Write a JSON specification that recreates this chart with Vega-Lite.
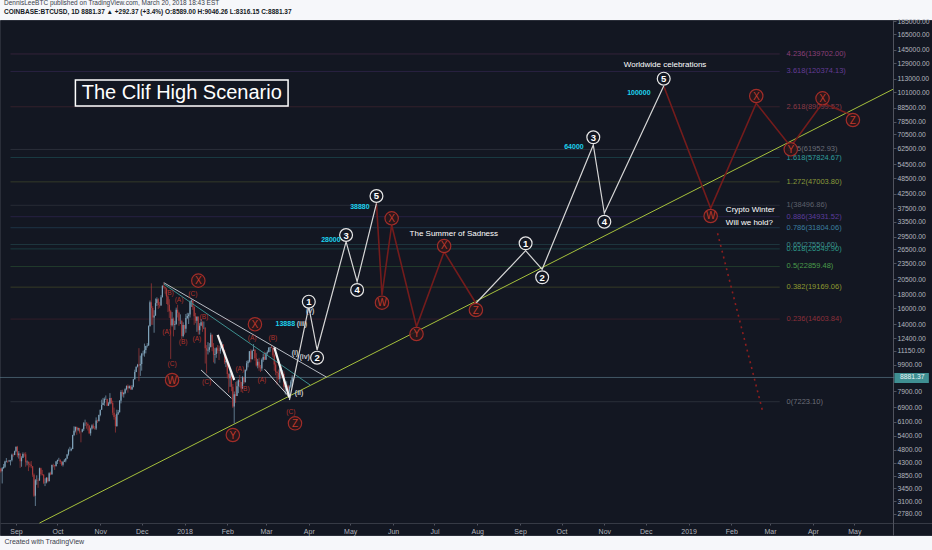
{
"$schema":"https://vega.github.io/schema/vega-lite/v6.json",
"width":932,"height":515,
"autosize":{"type":"none"},
"padding":{"left":0,"top":20,"right":0,"bottom":15},
"background":"#f6f7fa",
"title":{"text":"DennisLeeBTC published on TradingView.com, March 20, 2018 18:43 EST","subtitle":"COINBASE:BTCUSD, 1D  8881.37 ▲ +292.37 (+3.4%)  O:8589.00  H:9046.26  L:8316.15  C:8881.37","anchor":"start","frame":"group","offset":3,"dx":4,"fontSize":6.5,"font":"Liberation Sans","fontWeight":"normal","color":"#3a3e4a","subtitleFontSize":6.5,"subtitleFont":"Liberation Sans","subtitleFontWeight":"bold","subtitleColor":"#131722","subtitlePadding":2.5},
"config":{"view":{"fill":"#131722","stroke":"#2a2e39"},"text":{"font":"Liberation Sans"},
 "axis":{"grid":false,"labelFontSize":7,"labelFont":"Liberation Sans","labelColor":"#b2b5be","labelOverlap":false,"labelFlush":false,"tickColor":"#50535e","domainColor":"#50535e","titleFont":"Liberation Sans"}},
"datasets":{
"candles":[
{"d":"2017-08-21","o":4088,"h":4100,"l":3950,"c":3999},
{"d":"2017-08-22","o":3999,"h":4140,"l":3600,"c":4100},
{"d":"2017-08-23","o":4100,"h":4250,"l":4080,"c":4150},
{"d":"2017-08-24","o":4150,"h":4370,"l":4110,"c":4340},
{"d":"2017-08-25","o":4340,"h":4470,"l":4310,"c":4360},
{"d":"2017-08-26","o":4360,"h":4380,"l":4290,"c":4350},
{"d":"2017-08-27","o":4350,"h":4400,"l":4320,"c":4380},
{"d":"2017-08-28","o":4380,"h":4400,"l":4200,"c":4390},
{"d":"2017-08-29","o":4390,"h":4640,"l":4340,"c":4600},
{"d":"2017-08-30","o":4600,"h":4650,"l":4520,"c":4590},
{"d":"2017-08-31","o":4590,"h":4760,"l":4580,"c":4740},
{"d":"2017-09-01","o":4740,"h":4930,"l":4700,"c":4920},
{"d":"2017-09-02","o":4920,"h":4960,"l":4500,"c":4580},
{"d":"2017-09-03","o":4580,"h":4740,"l":4450,"c":4650},
{"d":"2017-09-04","o":4650,"h":4650,"l":4110,"c":4350},
{"d":"2017-09-05","o":4350,"h":4540,"l":4150,"c":4480},
{"d":"2017-09-06","o":4480,"h":4690,"l":4470,"c":4630},
{"d":"2017-09-07","o":4630,"h":4680,"l":4520,"c":4620},
{"d":"2017-09-08","o":4620,"h":4700,"l":4150,"c":4310},
{"d":"2017-09-09","o":4310,"h":4380,"l":4200,"c":4330},
{"d":"2017-09-10","o":4330,"h":4340,"l":4000,"c":4260},
{"d":"2017-09-11","o":4260,"h":4330,"l":4130,"c":4220},
{"d":"2017-09-12","o":4220,"h":4360,"l":4100,"c":4170},
{"d":"2017-09-13","o":4170,"h":4170,"l":3810,"c":3880},
{"d":"2017-09-14","o":3880,"h":3920,"l":3210,"c":3240},
{"d":"2017-09-15","o":3240,"h":3740,"l":2972,"c":3700},
{"d":"2017-09-16","o":3700,"h":3860,"l":3560,"c":3710},
{"d":"2017-09-17","o":3710,"h":3760,"l":3470,"c":3690},
{"d":"2017-09-18","o":3690,"h":4120,"l":3690,"c":4100},
{"d":"2017-09-19","o":4100,"h":4120,"l":3850,"c":3900},
{"d":"2017-09-20","o":3900,"h":4040,"l":3850,"c":3880},
{"d":"2017-09-21","o":3880,"h":3900,"l":3580,"c":3620},
{"d":"2017-09-22","o":3620,"h":3760,"l":3520,"c":3630},
{"d":"2017-09-23","o":3630,"h":3800,"l":3600,"c":3780},
{"d":"2017-09-24","o":3780,"h":3790,"l":3630,"c":3670},
{"d":"2017-09-25","o":3670,"h":3960,"l":3670,"c":3930},
{"d":"2017-09-26","o":3930,"h":3980,"l":3860,"c":3890},
{"d":"2017-09-27","o":3890,"h":4230,"l":3890,"c":4210},
{"d":"2017-09-28","o":4210,"h":4260,"l":4130,"c":4200},
{"d":"2017-09-29","o":4200,"h":4220,"l":4040,"c":4170},
{"d":"2017-09-30","o":4170,"h":4360,"l":4170,"c":4340},
{"d":"2017-10-01","o":4340,"h":4410,"l":4250,"c":4400},
{"d":"2017-10-02","o":4400,"h":4480,"l":4360,"c":4400},
{"d":"2017-10-03","o":4400,"h":4430,"l":4250,"c":4320},
{"d":"2017-10-04","o":4320,"h":4360,"l":4180,"c":4220},
{"d":"2017-10-05","o":4220,"h":4350,"l":4160,"c":4330},
{"d":"2017-10-06","o":4330,"h":4430,"l":4330,"c":4380},
{"d":"2017-10-07","o":4380,"h":4470,"l":4310,"c":4450},
{"d":"2017-10-08","o":4450,"h":4630,"l":4430,"c":4610},
{"d":"2017-10-09","o":4610,"h":4840,"l":4560,"c":4780},
{"d":"2017-10-10","o":4780,"h":4920,"l":4730,"c":4780},
{"d":"2017-10-11","o":4780,"h":4880,"l":4740,"c":4830},
{"d":"2017-10-12","o":4830,"h":5450,"l":4820,"c":5440},
{"d":"2017-10-13","o":5440,"h":5860,"l":5390,"c":5640},
{"d":"2017-10-14","o":5640,"h":5840,"l":5560,"c":5830},
{"d":"2017-10-15","o":5830,"h":5850,"l":5450,"c":5700},
{"d":"2017-10-16","o":5700,"h":5790,"l":5620,"c":5760},
{"d":"2017-10-17","o":5760,"h":5780,"l":5510,"c":5600},
{"d":"2017-10-18","o":5600,"h":5600,"l":5110,"c":5590},
{"d":"2017-10-19","o":5590,"h":5740,"l":5560,"c":5710},
{"d":"2017-10-20","o":5710,"h":6070,"l":5630,"c":6010},
{"d":"2017-10-21","o":6010,"h":6200,"l":5880,"c":6010},
{"d":"2017-10-22","o":6010,"h":6080,"l":5740,"c":5980},
{"d":"2017-10-23","o":5980,"h":6050,"l":5650,"c":5900},
{"d":"2017-10-24","o":5900,"h":5910,"l":5480,"c":5520},
{"d":"2017-10-25","o":5520,"h":5790,"l":5410,"c":5750},
{"d":"2017-10-26","o":5750,"h":5960,"l":5700,"c":5900},
{"d":"2017-10-27","o":5900,"h":6000,"l":5730,"c":5780},
{"d":"2017-10-28","o":5780,"h":5870,"l":5690,"c":5750},
{"d":"2017-10-29","o":5750,"h":6320,"l":5680,"c":6150},
{"d":"2017-10-30","o":6150,"h":6200,"l":6030,"c":6130},
{"d":"2017-10-31","o":6130,"h":6470,"l":6100,"c":6450},
{"d":"2017-11-01","o":6450,"h":6750,"l":6380,"c":6740},
{"d":"2017-11-02","o":6740,"h":7350,"l":6740,"c":7030},
{"d":"2017-11-03","o":7030,"h":7460,"l":7020,"c":7160},
{"d":"2017-11-04","o":7160,"h":7490,"l":6980,"c":7390},
{"d":"2017-11-05","o":7390,"h":7620,"l":7330,"c":7400},
{"d":"2017-11-06","o":7400,"h":7410,"l":6960,"c":6980},
{"d":"2017-11-07","o":6980,"h":7200,"l":6970,"c":7120},
{"d":"2017-11-08","o":7120,"h":7770,"l":7060,"c":7460},
{"d":"2017-11-09","o":7460,"h":7470,"l":7070,"c":7150},
{"d":"2017-11-10","o":7150,"h":7290,"l":6440,"c":6570},
{"d":"2017-11-11","o":6570,"h":6870,"l":6200,"c":6340},
{"d":"2017-11-12","o":6340,"h":6470,"l":5555,"c":5870},
{"d":"2017-11-13","o":5870,"h":6750,"l":5830,"c":6520},
{"d":"2017-11-14","o":6520,"h":6730,"l":6450,"c":6600},
{"d":"2017-11-15","o":6600,"h":7330,"l":6600,"c":7280},
{"d":"2017-11-16","o":7280,"h":7970,"l":7120,"c":7850},
{"d":"2017-11-17","o":7850,"h":8000,"l":7550,"c":7700},
{"d":"2017-11-18","o":7700,"h":7860,"l":7480,"c":7780},
{"d":"2017-11-19","o":7780,"h":8100,"l":7700,"c":8040},
{"d":"2017-11-20","o":8040,"h":8300,"l":7960,"c":8250},
{"d":"2017-11-21","o":8250,"h":8370,"l":7800,"c":8100},
{"d":"2017-11-22","o":8100,"h":8300,"l":8090,"c":8240},
{"d":"2017-11-23","o":8240,"h":8300,"l":8000,"c":8020},
{"d":"2017-11-24","o":8020,"h":8330,"l":8000,"c":8200},
{"d":"2017-11-25","o":8200,"h":8780,"l":8160,"c":8750},
{"d":"2017-11-26","o":8750,"h":9490,"l":8720,"c":9300},
{"d":"2017-11-27","o":9300,"h":9750,"l":9290,"c":9740},
{"d":"2017-11-28","o":9740,"h":9970,"l":9670,"c":9900},
{"d":"2017-11-29","o":9900,"h":11400,"l":8600,"c":9840},
{"d":"2017-11-30","o":9840,"h":10700,"l":9000,"c":9950},
{"d":"2017-12-01","o":9950,"h":10950,"l":9410,"c":10860},
{"d":"2017-12-02","o":10860,"h":11150,"l":10700,"c":10900},
{"d":"2017-12-03","o":10900,"h":11850,"l":10600,"c":11230},
{"d":"2017-12-04","o":11230,"h":11630,"l":10900,"c":11610},
{"d":"2017-12-05","o":11610,"h":11900,"l":11460,"c":11660},
{"d":"2017-12-06","o":11660,"h":13850,"l":11640,"c":13750},
{"d":"2017-12-07","o":13750,"h":17100,"l":13720,"c":16850},
{"d":"2017-12-08","o":16850,"h":19800,"l":13900,"c":16050},
{"d":"2017-12-09","o":16050,"h":16300,"l":13900,"c":14800},
{"d":"2017-12-10","o":14800,"h":15750,"l":13000,"c":15050},
{"d":"2017-12-11","o":15050,"h":17400,"l":15020,"c":16730},
{"d":"2017-12-12","o":16730,"h":17580,"l":16320,"c":17280},
{"d":"2017-12-13","o":17280,"h":17450,"l":15920,"c":16460},
{"d":"2017-12-14","o":16460,"h":16900,"l":16080,"c":16400},
{"d":"2017-12-15","o":16400,"h":17900,"l":16360,"c":17600},
{"d":"2017-12-16","o":17600,"h":19450,"l":17550,"c":19400},
{"d":"2017-12-17","o":19400,"h":19891,"l":18950,"c":19200},
{"d":"2017-12-18","o":19200,"h":19220,"l":18140,"c":18950},
{"d":"2017-12-19","o":18950,"h":19000,"l":16600,"c":17700},
{"d":"2017-12-20","o":17700,"h":17900,"l":15500,"c":16500},
{"d":"2017-12-21","o":16500,"h":17300,"l":14750,"c":15600},
{"d":"2017-12-22","o":15600,"h":15800,"l":10400,"c":13850},
{"d":"2017-12-23","o":13850,"h":15500,"l":13700,"c":14650},
{"d":"2017-12-24","o":14650,"h":14800,"l":12600,"c":13920},
{"d":"2017-12-25","o":13920,"h":14400,"l":13320,"c":14000},
{"d":"2017-12-26","o":14000,"h":16100,"l":13900,"c":15800},
{"d":"2017-12-27","o":15800,"h":16500,"l":14800,"c":15400},
{"d":"2017-12-28","o":15400,"h":15550,"l":13800,"c":14400},
{"d":"2017-12-29","o":14400,"h":15200,"l":14000,"c":14400},
{"d":"2017-12-30","o":14400,"h":14450,"l":12300,"c":12640},
{"d":"2017-12-31","o":12640,"h":14200,"l":12500,"c":13880},
{"d":"2018-01-01","o":13880,"h":13900,"l":12800,"c":13440},
{"d":"2018-01-02","o":13440,"h":15250,"l":13000,"c":14750},
{"d":"2018-01-03","o":14750,"h":15400,"l":14600,"c":15000},
{"d":"2018-01-04","o":15000,"h":15400,"l":14000,"c":15170},
{"d":"2018-01-05","o":15170,"h":17100,"l":14800,"c":16950},
{"d":"2018-01-06","o":16950,"h":17250,"l":16200,"c":17100},
{"d":"2018-01-07","o":17100,"h":17100,"l":15800,"c":16200},
{"d":"2018-01-08","o":16200,"h":16300,"l":13900,"c":14950},
{"d":"2018-01-09","o":14950,"h":15400,"l":14100,"c":14400},
{"d":"2018-01-10","o":14400,"h":14950,"l":13100,"c":14900},
{"d":"2018-01-11","o":14900,"h":14950,"l":12800,"c":13270},
{"d":"2018-01-12","o":13270,"h":14100,"l":12800,"c":13800},
{"d":"2018-01-13","o":13800,"h":14600,"l":13800,"c":14200},
{"d":"2018-01-14","o":14200,"h":14350,"l":13100,"c":13600},
{"d":"2018-01-15","o":13600,"h":14300,"l":13400,"c":13600},
{"d":"2018-01-16","o":13600,"h":13600,"l":10000,"c":11400},
{"d":"2018-01-17","o":11400,"h":11700,"l":9200,"c":11170},
{"d":"2018-01-18","o":11170,"h":12000,"l":10800,"c":11250},
{"d":"2018-01-19","o":11250,"h":11900,"l":11000,"c":11500},
{"d":"2018-01-20","o":11500,"h":13000,"l":11500,"c":12780},
{"d":"2018-01-21","o":12780,"h":12800,"l":11100,"c":11530},
{"d":"2018-01-22","o":11530,"h":11900,"l":10100,"c":10780},
{"d":"2018-01-23","o":10780,"h":11400,"l":10000,"c":10840},
{"d":"2018-01-24","o":10840,"h":11500,"l":10500,"c":11400},
{"d":"2018-01-25","o":11400,"h":11700,"l":10900,"c":11180},
{"d":"2018-01-26","o":11180,"h":11650,"l":10300,"c":11120},
{"d":"2018-01-27","o":11120,"h":11650,"l":10880,"c":11440},
{"d":"2018-01-28","o":11440,"h":12050,"l":11400,"c":11760},
{"d":"2018-01-29","o":11760,"h":11800,"l":11050,"c":11210},
{"d":"2018-01-30","o":11210,"h":11250,"l":9950,"c":10110},
{"d":"2018-01-31","o":10110,"h":10360,"l":9700,"c":10220},
{"d":"2018-02-01","o":10220,"h":10250,"l":8800,"c":9150},
{"d":"2018-02-02","o":9150,"h":9200,"l":7800,"c":8830},
{"d":"2018-02-03","o":8830,"h":9450,"l":8200,"c":9170},
{"d":"2018-02-04","o":9170,"h":9380,"l":7900,"c":8200},
{"d":"2018-02-05","o":8200,"h":8400,"l":6850,"c":6930},
{"d":"2018-02-06","o":6930,"h":7880,"l":6000,"c":7700},
{"d":"2018-02-07","o":7700,"h":8550,"l":7150,"c":7580},
{"d":"2018-02-08","o":7580,"h":8600,"l":7580,"c":8240},
{"d":"2018-02-09","o":8240,"h":8740,"l":7770,"c":8680},
{"d":"2018-02-10","o":8680,"h":9070,"l":8170,"c":8550},
{"d":"2018-02-11","o":8550,"h":8550,"l":7850,"c":8080},
{"d":"2018-02-12","o":8080,"h":8980,"l":8080,"c":8900},
{"d":"2018-02-13","o":8900,"h":8930,"l":8400,"c":8520},
{"d":"2018-02-14","o":8520,"h":9500,"l":8520,"c":9480},
{"d":"2018-02-15","o":9480,"h":10230,"l":9370,"c":10030},
{"d":"2018-02-16","o":10030,"h":10300,"l":9680,"c":10170},
{"d":"2018-02-17","o":10170,"h":11130,"l":10080,"c":11100},
{"d":"2018-02-18","o":11100,"h":11290,"l":10100,"c":10400},
{"d":"2018-02-19","o":10400,"h":11250,"l":10330,"c":11150},
{"d":"2018-02-20","o":11150,"h":11800,"l":11150,"c":11250},
{"d":"2018-02-21","o":11250,"h":11290,"l":10250,"c":10470},
{"d":"2018-02-22","o":10470,"h":10920,"l":9740,"c":9830},
{"d":"2018-02-23","o":9830,"h":10400,"l":9600,"c":10150},
{"d":"2018-02-24","o":10150,"h":10500,"l":9400,"c":9670},
{"d":"2018-02-25","o":9670,"h":9880,"l":9300,"c":9590},
{"d":"2018-02-26","o":9590,"h":10450,"l":9400,"c":10320},
{"d":"2018-02-27","o":10320,"h":10880,"l":10150,"c":10570},
{"d":"2018-02-28","o":10570,"h":11080,"l":10300,"c":10330},
{"d":"2018-03-01","o":10330,"h":11000,"l":10330,"c":10920},
{"d":"2018-03-02","o":10920,"h":11180,"l":10780,"c":11020},
{"d":"2018-03-03","o":11020,"h":11500,"l":11020,"c":11440},
{"d":"2018-03-04","o":11440,"h":11520,"l":11050,"c":11500},
{"d":"2018-03-05","o":11500,"h":11690,"l":11400,"c":11440},
{"d":"2018-03-06","o":11440,"h":11440,"l":10550,"c":10720},
{"d":"2018-03-07","o":10720,"h":10890,"l":9400,"c":9910},
{"d":"2018-03-08","o":9910,"h":10100,"l":9050,"c":9300},
{"d":"2018-03-09","o":9300,"h":9400,"l":8350,"c":9230},
{"d":"2018-03-10","o":9230,"h":9500,"l":8700,"c":8780},
{"d":"2018-03-11","o":8780,"h":9700,"l":8500,"c":9530},
{"d":"2018-03-12","o":9530,"h":9880,"l":8800,"c":9140},
{"d":"2018-03-13","o":9140,"h":9450,"l":8850,"c":9150},
{"d":"2018-03-14","o":9150,"h":9350,"l":7900,"c":8200},
{"d":"2018-03-15","o":8200,"h":8400,"l":7680,"c":8260},
{"d":"2018-03-16","o":8260,"h":8600,"l":7920,"c":8270},
{"d":"2018-03-17","o":8270,"h":8350,"l":7750,"c":7870},
{"d":"2018-03-18","o":7870,"h":8300,"l":7320,"c":8200},
{"d":"2018-03-19","o":8200,"h":8700,"l":8100,"c":8590},
{"d":"2018-03-20","o":8589,"h":9046.26,"l":8316.15,"c":8881.37}
],
"paths":[
{"g":"t","k":"trend","d":"2017-09-18","p":2570},
{"g":"t","k":"trend","d":"2019-05-29","p":103400},
{"g":"tg","k":"tri","d":"2017-12-17","p":19912},
{"g":"tg","k":"tri","d":"2018-04-14","p":8894},
{"g":"tt","k":"teal","d":"2017-12-17","p":19700},
{"g":"tt","k":"teal","d":"2018-04-02","p":8329},
{"g":"b1","k":"bold","d":"2018-01-25","p":12754},
{"g":"b1","k":"bold","d":"2018-02-06","p":8691},
{"g":"b2","k":"bold","d":"2018-03-07","p":11481},
{"g":"b2","k":"bold","d":"2018-03-18","p":7476},
{"g":"s1","k":"thin","d":"2018-01-13","p":9465},
{"g":"s1","k":"thin","d":"2018-02-04","p":7439},
{"g":"s2","k":"thin","d":"2018-02-28","p":9522},
{"g":"s2","k":"thin","d":"2018-03-18","p":7506},
{"g":"w1","k":"wave","d":"2018-03-18","p":7332},
{"g":"w1","k":"wave","d":"2018-04-01","p":16230},
{"g":"w1","k":"wave","d":"2018-04-07","p":11222},
{"g":"w1","k":"wave","d":"2018-04-28","p":28233},
{"g":"w1","k":"wave","d":"2018-05-06","p":20086},
{"g":"w1","k":"wave","d":"2018-05-20","p":39155},
{"g":"w2","k":"wave","d":"2018-07-31","p":16707},
{"g":"w2","k":"wave","d":"2018-09-05","p":26148},
{"g":"w2","k":"wave","d":"2018-09-17","p":22318},
{"g":"w2","k":"wave","d":"2018-10-24","p":64340},
{"g":"w2","k":"wave","d":"2018-11-01","p":35957},
{"g":"w2","k":"wave","d":"2018-12-14","p":106350},
{"g":"r1","k":"red","d":"2018-05-20","p":39155},
{"g":"r1","k":"red","d":"2018-05-24","p":17930},
{"g":"r1","k":"red","d":"2018-05-31","p":32545},
{"g":"r1","k":"red","d":"2018-06-18","p":13690},
{"g":"r1","k":"red","d":"2018-07-08","p":25928},
{"g":"r1","k":"red","d":"2018-07-31","p":16707},
{"g":"r2","k":"red","d":"2018-12-14","p":106350},
{"g":"r2","k":"red","d":"2019-01-17","p":37527},
{"g":"r2","k":"red","d":"2019-02-19","p":91779},
{"g":"r2","k":"red","d":"2019-03-16","p":63412},
{"g":"r2","k":"red","d":"2019-04-08","p":92010},
{"g":"r2","k":"red","d":"2019-04-29","p":83070},
{"g":"d1","k":"dot","d":"2019-01-22","p":30327},
{"g":"d1","k":"dot","d":"2019-02-24","p":6544}
],
"fib":[
{"lv":"4.236","v":139702.0,"t":"4.236(139702.00)","d1":"2017-08-28","d2":"2019-03-08","dl":"2019-03-13"},
{"lv":"3.618","v":120374.13,"t":"3.618(120374.13)","d1":"2017-08-28","d2":"2019-03-08","dl":"2019-03-13"},
{"lv":"2.618","v":89099.52,"t":"2.618(89099.52)","d1":"2017-08-28","d2":"2019-03-08","dl":"2019-03-13"},
{"lv":"1.75","v":61952.93,"t":"1.75(61952.93)","d1":"2017-08-28","d2":"2019-03-08","dl":"2019-03-13"},
{"lv":"1.618","v":57824.67,"t":"1.618(57824.67)","d1":"2017-08-28","d2":"2019-03-08","dl":"2019-03-13"},
{"lv":"1.272","v":47003.8,"t":"1.272(47003.80)","d1":"2017-08-28","d2":"2019-03-08","dl":"2019-03-13"},
{"lv":"1","v":38496.86,"t":"1(38496.86)","d1":"2017-08-28","d2":"2019-03-08","dl":"2019-03-13"},
{"lv":"0.886","v":34931.52,"t":"0.886(34931.52)","d1":"2017-08-28","d2":"2019-03-08","dl":"2019-03-13"},
{"lv":"0.786","v":31804.06,"t":"0.786(31804.06)","d1":"2017-08-28","d2":"2019-03-08","dl":"2019-03-13"},
{"lv":"0.65","v":27550.6,"t":"0.65(27550.60)","d1":"2017-08-28","d2":"2019-03-08","dl":"2019-03-13"},
{"lv":"0.618","v":26549.9,"t":"0.618(26549.90)","d1":"2017-08-28","d2":"2019-03-08","dl":"2019-03-13"},
{"lv":"0.5","v":22859.48,"t":"0.5(22859.48)","d1":"2017-08-28","d2":"2019-03-08","dl":"2019-03-13"},
{"lv":"0.382","v":19169.06,"t":"0.382(19169.06)","d1":"2017-08-28","d2":"2019-03-08","dl":"2019-03-13"},
{"lv":"0.236","v":14603.84,"t":"0.236(14603.84)","d1":"2017-08-28","d2":"2019-03-08","dl":"2019-03-13"},
{"lv":"0","v":7223.1,"t":"0(7223.10)","d1":"2017-08-28","d2":"2019-03-08","dl":"2019-03-13"}
],
"labels":[
{"k":"wc","t":"1","d":"2018-04-01","p":16937},
{"k":"wc","t":"2","d":"2018-04-07","p":10510},
{"k":"wc","t":"3","d":"2018-04-28","p":29887},
{"k":"wc","t":"4","d":"2018-05-06","p":18713},
{"k":"wc","t":"5","d":"2018-05-20","p":41668},
{"k":"wc","t":"1","d":"2018-09-05","p":27848},
{"k":"wc","t":"2","d":"2018-09-17","p":20846},
{"k":"wc","t":"3","d":"2018-10-24","p":68700},
{"k":"wc","t":"4","d":"2018-11-01","p":33472},
{"k":"wc","t":"5","d":"2018-12-14","p":113170},
{"k":"rc","t":"W","d":"2018-05-24","p":16792},
{"k":"rc","t":"X","d":"2018-05-31","p":34457},
{"k":"rc","t":"Y","d":"2018-06-18","p":12865},
{"k":"rc","t":"X","d":"2018-07-08","p":27217},
{"k":"rc","t":"Z","d":"2018-07-31","p":15777},
{"k":"rc","t":"W","d":"2019-01-17","p":35139},
{"k":"rc","t":"X","d":"2019-02-19","p":97660},
{"k":"rc","t":"Y","d":"2019-03-16","p":62023},
{"k":"rc","t":"X","d":"2019-04-08","p":95769},
{"k":"rc","t":"Z","d":"2019-04-30","p":79602},
{"k":"rc","t":"X","d":"2018-01-11","p":20258},
{"k":"rc","t":"W","d":"2017-12-23","p":8691},
{"k":"rc","t":"Y","d":"2018-02-05","p":5440},
{"k":"rc","t":"X","d":"2018-02-21","p":13970},
{"k":"rc","t":"Z","d":"2018-03-22","p":6010},
{"k":"rs","t":"(B)","d":"2017-12-21","p":18191},
{"k":"rs","t":"(A)","d":"2017-12-28","p":17183},
{"k":"rs","t":"(C)","d":"2018-01-07","p":18084},
{"k":"rs","t":"(B)","d":"2018-01-15","p":14904},
{"k":"rs","t":"(A)","d":"2017-12-19","p":13115},
{"k":"rs","t":"(B)","d":"2017-12-31","p":12046},
{"k":"rs","t":"(A)","d":"2018-01-10","p":12295},
{"k":"rs","t":"(C)","d":"2017-12-23","p":9960},
{"k":"rs","t":"(C)","d":"2018-01-17","p":8523},
{"k":"rs","t":"(A)","d":"2018-02-10","p":9546},
{"k":"rs","t":"(B)","d":"2018-02-14","p":8029},
{"k":"rs","t":"(A)","d":"2018-02-19","p":12400},
{"k":"rs","t":"(B)","d":"2018-03-06","p":12400},
{"k":"rs","t":"(A)","d":"2018-02-26","p":8691},
{"k":"rs","t":"(C)","d":"2018-03-19","p":6634},
{"k":"gs","t":"(i)","d":"2018-03-22","p":10967},
{"k":"gs","t":"(ii)","d":"2018-03-25","p":7801},
{"k":"gs","t":"(iii)","d":"2018-03-27","p":14005},
{"k":"gs","t":"(iv)","d":"2018-03-29","p":10545},
{"k":"gs","t":"(v)","d":"2018-04-02","p":15683},
{"k":"cy","t":"13888","d":"2018-03-15","p":14005},
{"k":"cy","t":"28000","d":"2018-04-17","p":28646},
{"k":"cy","t":"38880","d":"2018-05-08","p":38038},
{"k":"cy","t":"64000","d":"2018-10-10","p":63412},
{"k":"cy","t":"100000","d":"2018-11-26","p":100450},
{"k":"wt","t":"The Summer of Sadness","d":"2018-07-15","p":30224},
{"k":"wt","t":"Worldwide celebrations","d":"2018-12-15","p":127513},
{"k":"wl","t":"Crypto Winter","d":"2019-01-28","p":36878},
{"k":"wl","t":"Will we hold?","d":"2019-01-28","p":33106}
],
"box":[{"d1":"2017-10-14","d2":"2018-03-17","p1":89684,"p2":111918,"dc":"2017-12-30","pc":100187,"t":"The Clif High Scenario"}],
"last":[{"d0":"2017-08-20","d1":"2019-05-30","d2":"2019-06-24","dc":"2019-06-12","v":8881.37,"p1":8473,"p2":9226,"t":"8881.37"}]
},
"layer":[
{"data":{"name":"fib"},"mark":{"type":"rule","strokeWidth":0.8,"opacity":0.35},
 "encoding":{
  "x":{"field":"d1","type":"temporal","scale":{"type":"utc","domain":[{"year":2017,"month":8,"date":20,"hours":9,"minutes":36,"utc":true},{"year":2019,"month":6,"date":26,"hours":6,"minutes":30,"utc":true}]},
   "axis":{"values":[{"year":2017,"month":9,"date":1,"utc":true},{"year":2017,"month":10,"date":1,"utc":true},{"year":2017,"month":11,"date":1,"utc":true},{"year":2017,"month":12,"date":1,"utc":true},{"year":2018,"month":1,"date":1,"utc":true},{"year":2018,"month":2,"date":1,"utc":true},{"year":2018,"month":3,"date":1,"utc":true},{"year":2018,"month":4,"date":1,"utc":true},{"year":2018,"month":5,"date":1,"utc":true},{"year":2018,"month":6,"date":1,"utc":true},{"year":2018,"month":7,"date":1,"utc":true},{"year":2018,"month":8,"date":1,"utc":true},{"year":2018,"month":9,"date":1,"utc":true},{"year":2018,"month":10,"date":1,"utc":true},{"year":2018,"month":11,"date":1,"utc":true},{"year":2018,"month":12,"date":1,"utc":true},{"year":2019,"month":1,"date":1,"utc":true},{"year":2019,"month":2,"date":1,"utc":true},{"year":2019,"month":3,"date":1,"utc":true},{"year":2019,"month":4,"date":1,"utc":true},{"year":2019,"month":5,"date":1,"utc":true}],
    "labelExpr":"utcFormat(datum.value,'%m')=='01' ? utcFormat(datum.value,'%Y') : utcFormat(datum.value,'%b')",
    "orient":"bottom","offset":-12,"grid":false,"labelFontSize":7,"labelColor":"#b2b5be","labelPadding":2,"labelBaseline":"top","labelOverlap":false,"labelFlush":false,"ticks":true,"tickSize":2,"tickColor":"#50535e","domainColor":"#363a45",
    "title":"Created with  TradingView","titleAnchor":"start","titleAlign":"left","titleX":4,"titleY":18,"titleBaseline":"middle","titleFontSize":7,"titleFontWeight":"normal","titleColor":"#3a3e4a"}},
  "x2":{"field":"d2"},
  "y":{"field":"v","type":"quantitative","scale":{"type":"log","domain":[2321,186583],"nice":false,"zero":false},
   "axis":{"orient":"right","offset":-39,"values":[185000,165000,145000,129000,113000,101000,88500,78500,70500,62500,54500,48500,42500,37500,33500,29500,26500,23500,20500,18000,16000,14000,12400,11150,9900,7900,6900,6100,5400,4800,4300,3850,3450,3100,2780],"format":".2f","grid":false,"labelFontSize":6.8,"labelColor":"#b2b5be","labelPadding":1,"labelAlign":"left","labelOverlap":false,"labelFlush":false,"tickSize":3,"tickColor":"#50535e","domainColor":"#50535e","title":null}},
  "color":{"field":"lv","type":"nominal","legend":null,"scale":{"domain":["4.236","3.618","2.618","1.75","1.618","1.272","1","0.886","0.786","0.65","0.618","0.5","0.382","0.236","0"],"range":["#8a3f78","#643c96","#8c3a46","#6b6e78","#2f9e9e","#8a9a3a","#5d606b","#5c3c9c","#3b7fa0","#3c8c8c","#2e9a8a","#4a9c4a","#8f9a30","#8c2f3a","#6b6e78"]}}
 }},
{"data":{"name":"fib"},"mark":{"type":"text","align":"left","baseline":"middle","fontSize":7.5,"font":"Liberation Sans"},
 "encoding":{
  "x":{"field":"dl","type":"temporal","scale":{"type":"utc","domain":[{"year":2017,"month":8,"date":20,"hours":9,"minutes":36,"utc":true},{"year":2019,"month":6,"date":26,"hours":6,"minutes":30,"utc":true}]}},
  "y":{"field":"v","type":"quantitative","scale":{"type":"log","domain":[2321,186583],"nice":false,"zero":false}},
  "text":{"field":"t"},
  "color":{"field":"lv","type":"nominal","legend":null,"scale":{"domain":["4.236","3.618","2.618","1.75","1.618","1.272","1","0.886","0.786","0.65","0.618","0.5","0.382","0.236","0"],"range":["#8a3f78","#643c96","#8c3a46","#6b6e78","#2f9e9e","#8a9a3a","#5d606b","#5c3c9c","#3b7fa0","#3c8c8c","#2e9a8a","#4a9c4a","#8f9a30","#8c2f3a","#6b6e78"]}}
 }},
{"data":{"name":"last"},"mark":{"type":"rule","color":"#5d7c8c","strokeWidth":0.8,"opacity":0.8},
 "encoding":{
  "x":{"field":"d0","type":"temporal","scale":{"type":"utc","domain":[{"year":2017,"month":8,"date":20,"hours":9,"minutes":36,"utc":true},{"year":2019,"month":6,"date":26,"hours":6,"minutes":30,"utc":true}]}},
  "x2":{"field":"d1"},
  "y":{"field":"v","type":"quantitative","scale":{"type":"log","domain":[2321,186583],"nice":false,"zero":false}}
 }},
{"data":{"name":"paths"},"transform":[{"filter":"datum.k=='trend'"}],"mark":{"type":"line","color":"#a6c13c","strokeWidth":1},
 "encoding":{
  "x":{"field":"d","type":"temporal","scale":{"type":"utc","domain":[{"year":2017,"month":8,"date":20,"hours":9,"minutes":36,"utc":true},{"year":2019,"month":6,"date":26,"hours":6,"minutes":30,"utc":true}]}},
  "y":{"field":"p","type":"quantitative","scale":{"type":"log","domain":[2321,186583],"nice":false,"zero":false}},
  "detail":{"field":"g"}
 }},
{"data":{"name":"candles"},"mark":{"type":"rule","strokeWidth":0.7},
 "encoding":{
  "x":{"field":"d","type":"temporal","scale":{"type":"utc","domain":[{"year":2017,"month":8,"date":20,"hours":9,"minutes":36,"utc":true},{"year":2019,"month":6,"date":26,"hours":6,"minutes":30,"utc":true}]}},
  "y":{"field":"l","type":"quantitative","scale":{"type":"log","domain":[2321,186583],"nice":false,"zero":false}},
  "y2":{"field":"h"},
  "color":{"condition":{"test":"datum.c >= datum.o","value":"#7fa3ba"},"value":"#a8393a"}
 }},
{"data":{"name":"candles"},"mark":{"type":"rule","strokeWidth":1.2},
 "encoding":{
  "x":{"field":"d","type":"temporal","scale":{"type":"utc","domain":[{"year":2017,"month":8,"date":20,"hours":9,"minutes":36,"utc":true},{"year":2019,"month":6,"date":26,"hours":6,"minutes":30,"utc":true}]}},
  "y":{"field":"o","type":"quantitative","scale":{"type":"log","domain":[2321,186583],"nice":false,"zero":false}},
  "y2":{"field":"c"},
  "color":{"condition":{"test":"datum.c >= datum.o","value":"#7fa3ba"},"value":"#a8393a"}
 }},
{"data":{"name":"paths"},"transform":[{"filter":"datum.k=='tri'"}],"mark":{"type":"line","color":"#b8bcc4","strokeWidth":1},
 "encoding":{
  "x":{"field":"d","type":"temporal","scale":{"type":"utc","domain":[{"year":2017,"month":8,"date":20,"hours":9,"minutes":36,"utc":true},{"year":2019,"month":6,"date":26,"hours":6,"minutes":30,"utc":true}]}},
  "y":{"field":"p","type":"quantitative","scale":{"type":"log","domain":[2321,186583],"nice":false,"zero":false}},
  "detail":{"field":"g"}
 }},
{"data":{"name":"paths"},"transform":[{"filter":"datum.k=='teal'"}],"mark":{"type":"line","color":"#3d8f8f","strokeWidth":1},
 "encoding":{
  "x":{"field":"d","type":"temporal","scale":{"type":"utc","domain":[{"year":2017,"month":8,"date":20,"hours":9,"minutes":36,"utc":true},{"year":2019,"month":6,"date":26,"hours":6,"minutes":30,"utc":true}]}},
  "y":{"field":"p","type":"quantitative","scale":{"type":"log","domain":[2321,186583],"nice":false,"zero":false}},
  "detail":{"field":"g"}
 }},
{"data":{"name":"paths"},"transform":[{"filter":"datum.k=='thin'"}],"mark":{"type":"line","color":"#d0d3da","strokeWidth":1},
 "encoding":{
  "x":{"field":"d","type":"temporal","scale":{"type":"utc","domain":[{"year":2017,"month":8,"date":20,"hours":9,"minutes":36,"utc":true},{"year":2019,"month":6,"date":26,"hours":6,"minutes":30,"utc":true}]}},
  "y":{"field":"p","type":"quantitative","scale":{"type":"log","domain":[2321,186583],"nice":false,"zero":false}},
  "detail":{"field":"g"}
 }},
{"data":{"name":"paths"},"transform":[{"filter":"datum.k=='bold'"}],"mark":{"type":"line","color":"#f2f2f2","strokeWidth":2.2},
 "encoding":{
  "x":{"field":"d","type":"temporal","scale":{"type":"utc","domain":[{"year":2017,"month":8,"date":20,"hours":9,"minutes":36,"utc":true},{"year":2019,"month":6,"date":26,"hours":6,"minutes":30,"utc":true}]}},
  "y":{"field":"p","type":"quantitative","scale":{"type":"log","domain":[2321,186583],"nice":false,"zero":false}},
  "detail":{"field":"g"}
 }},
{"data":{"name":"paths"},"transform":[{"filter":"datum.k=='red'"}],"mark":{"type":"line","color":"#741c1c","strokeWidth":1.6},
 "encoding":{
  "x":{"field":"d","type":"temporal","scale":{"type":"utc","domain":[{"year":2017,"month":8,"date":20,"hours":9,"minutes":36,"utc":true},{"year":2019,"month":6,"date":26,"hours":6,"minutes":30,"utc":true}]}},
  "y":{"field":"p","type":"quantitative","scale":{"type":"log","domain":[2321,186583],"nice":false,"zero":false}},
  "detail":{"field":"g"}
 }},
{"data":{"name":"paths"},"transform":[{"filter":"datum.k=='dot'"}],"mark":{"type":"line","color":"#8e1e1e","strokeWidth":1.6,"strokeDash":[2,4]},
 "encoding":{
  "x":{"field":"d","type":"temporal","scale":{"type":"utc","domain":[{"year":2017,"month":8,"date":20,"hours":9,"minutes":36,"utc":true},{"year":2019,"month":6,"date":26,"hours":6,"minutes":30,"utc":true}]}},
  "y":{"field":"p","type":"quantitative","scale":{"type":"log","domain":[2321,186583],"nice":false,"zero":false}},
  "detail":{"field":"g"}
 }},
{"data":{"name":"paths"},"transform":[{"filter":"datum.k=='wave'"}],"mark":{"type":"line","color":"#d6d6d6","strokeWidth":1.2},
 "encoding":{
  "x":{"field":"d","type":"temporal","scale":{"type":"utc","domain":[{"year":2017,"month":8,"date":20,"hours":9,"minutes":36,"utc":true},{"year":2019,"month":6,"date":26,"hours":6,"minutes":30,"utc":true}]}},
  "y":{"field":"p","type":"quantitative","scale":{"type":"log","domain":[2321,186583],"nice":false,"zero":false}},
  "detail":{"field":"g"}
 }},
{"data":{"name":"box"},"mark":{"type":"rect","fillOpacity":0,"stroke":"#ffffff","strokeWidth":1.5},
 "encoding":{
  "x":{"field":"d1","type":"temporal","scale":{"type":"utc","domain":[{"year":2017,"month":8,"date":20,"hours":9,"minutes":36,"utc":true},{"year":2019,"month":6,"date":26,"hours":6,"minutes":30,"utc":true}]}},
  "x2":{"field":"d2"},
  "y":{"field":"p1","type":"quantitative","scale":{"type":"log","domain":[2321,186583],"nice":false,"zero":false}},
  "y2":{"field":"p2"}
 }},
{"data":{"name":"box"},"mark":{"type":"text","color":"#ffffff","fontSize":20,"font":"Liberation Sans","align":"center","baseline":"middle"},
 "encoding":{
  "x":{"field":"dc","type":"temporal","scale":{"type":"utc","domain":[{"year":2017,"month":8,"date":20,"hours":9,"minutes":36,"utc":true},{"year":2019,"month":6,"date":26,"hours":6,"minutes":30,"utc":true}]}},
  "y":{"field":"pc","type":"quantitative","scale":{"type":"log","domain":[2321,186583],"nice":false,"zero":false}},
  "text":{"field":"t"}
 }},
{"data":{"name":"labels"},"transform":[{"filter":"datum.k=='wc'"}],"mark":{"type":"point","shape":"circle","size":165,"filled":true,"fill":"#131722","stroke":"#e8e8e8","strokeWidth":1.2,"opacity":1},
 "encoding":{
  "x":{"field":"d","type":"temporal","scale":{"type":"utc","domain":[{"year":2017,"month":8,"date":20,"hours":9,"minutes":36,"utc":true},{"year":2019,"month":6,"date":26,"hours":6,"minutes":30,"utc":true}]}},
  "y":{"field":"p","type":"quantitative","scale":{"type":"log","domain":[2321,186583],"nice":false,"zero":false}}
 }},
{"data":{"name":"labels"},"transform":[{"filter":"datum.k=='wc'"}],"mark":{"type":"text","color":"#ffffff","fontSize":9.5,"fontWeight":"bold","font":"Liberation Sans","align":"center","baseline":"middle","dy":0.5},
 "encoding":{
  "x":{"field":"d","type":"temporal","scale":{"type":"utc","domain":[{"year":2017,"month":8,"date":20,"hours":9,"minutes":36,"utc":true},{"year":2019,"month":6,"date":26,"hours":6,"minutes":30,"utc":true}]}},
  "y":{"field":"p","type":"quantitative","scale":{"type":"log","domain":[2321,186583],"nice":false,"zero":false}},
  "text":{"field":"t"}
 }},
{"data":{"name":"labels"},"transform":[{"filter":"datum.k=='rc'"}],"mark":{"type":"point","shape":"circle","size":180,"filled":true,"fill":"#2a171c","stroke":"#b0302a","strokeWidth":1.2,"opacity":0.9},
 "encoding":{
  "x":{"field":"d","type":"temporal","scale":{"type":"utc","domain":[{"year":2017,"month":8,"date":20,"hours":9,"minutes":36,"utc":true},{"year":2019,"month":6,"date":26,"hours":6,"minutes":30,"utc":true}]}},
  "y":{"field":"p","type":"quantitative","scale":{"type":"log","domain":[2321,186583],"nice":false,"zero":false}}
 }},
{"data":{"name":"labels"},"transform":[{"filter":"datum.k=='rc'"}],"mark":{"type":"text","color":"#c0392b","fontSize":10,"font":"Liberation Sans","align":"center","baseline":"middle","dy":0.5},
 "encoding":{
  "x":{"field":"d","type":"temporal","scale":{"type":"utc","domain":[{"year":2017,"month":8,"date":20,"hours":9,"minutes":36,"utc":true},{"year":2019,"month":6,"date":26,"hours":6,"minutes":30,"utc":true}]}},
  "y":{"field":"p","type":"quantitative","scale":{"type":"log","domain":[2321,186583],"nice":false,"zero":false}},
  "text":{"field":"t"}
 }},
{"data":{"name":"labels"},"transform":[{"filter":"datum.k=='rs'"}],"mark":{"type":"text","color":"#b0332c","fontSize":6.5,"font":"Liberation Sans","align":"center","baseline":"middle"},
 "encoding":{
  "x":{"field":"d","type":"temporal","scale":{"type":"utc","domain":[{"year":2017,"month":8,"date":20,"hours":9,"minutes":36,"utc":true},{"year":2019,"month":6,"date":26,"hours":6,"minutes":30,"utc":true}]}},
  "y":{"field":"p","type":"quantitative","scale":{"type":"log","domain":[2321,186583],"nice":false,"zero":false}},
  "text":{"field":"t"}
 }},
{"data":{"name":"labels"},"transform":[{"filter":"datum.k=='gs'"}],"mark":{"type":"text","color":"#c4c6cc","fontSize":7,"fontWeight":"bold","font":"Liberation Sans","align":"center","baseline":"middle"},
 "encoding":{
  "x":{"field":"d","type":"temporal","scale":{"type":"utc","domain":[{"year":2017,"month":8,"date":20,"hours":9,"minutes":36,"utc":true},{"year":2019,"month":6,"date":26,"hours":6,"minutes":30,"utc":true}]}},
  "y":{"field":"p","type":"quantitative","scale":{"type":"log","domain":[2321,186583],"nice":false,"zero":false}},
  "text":{"field":"t"}
 }},
{"data":{"name":"labels"},"transform":[{"filter":"datum.k=='cy'"}],"mark":{"type":"text","color":"#1ed2ee","fontSize":7,"fontWeight":"bold","font":"Liberation Sans","align":"center","baseline":"middle"},
 "encoding":{
  "x":{"field":"d","type":"temporal","scale":{"type":"utc","domain":[{"year":2017,"month":8,"date":20,"hours":9,"minutes":36,"utc":true},{"year":2019,"month":6,"date":26,"hours":6,"minutes":30,"utc":true}]}},
  "y":{"field":"p","type":"quantitative","scale":{"type":"log","domain":[2321,186583],"nice":false,"zero":false}},
  "text":{"field":"t"}
 }},
{"data":{"name":"labels"},"transform":[{"filter":"datum.k=='wt'"}],"mark":{"type":"text","color":"#ffffff","fontSize":8,"font":"Liberation Sans","align":"center","baseline":"middle"},
 "encoding":{
  "x":{"field":"d","type":"temporal","scale":{"type":"utc","domain":[{"year":2017,"month":8,"date":20,"hours":9,"minutes":36,"utc":true},{"year":2019,"month":6,"date":26,"hours":6,"minutes":30,"utc":true}]}},
  "y":{"field":"p","type":"quantitative","scale":{"type":"log","domain":[2321,186583],"nice":false,"zero":false}},
  "text":{"field":"t"}
 }},
{"data":{"name":"labels"},"transform":[{"filter":"datum.k=='wl'"}],"mark":{"type":"text","color":"#ffffff","fontSize":8,"font":"Liberation Sans","align":"left","baseline":"middle"},
 "encoding":{
  "x":{"field":"d","type":"temporal","scale":{"type":"utc","domain":[{"year":2017,"month":8,"date":20,"hours":9,"minutes":36,"utc":true},{"year":2019,"month":6,"date":26,"hours":6,"minutes":30,"utc":true}]}},
  "y":{"field":"p","type":"quantitative","scale":{"type":"log","domain":[2321,186583],"nice":false,"zero":false}},
  "text":{"field":"t"}
 }},
{"data":{"name":"last"},"mark":{"type":"rect","fill":"#3f8f92"},
 "encoding":{
  "x":{"field":"d1","type":"temporal","scale":{"type":"utc","domain":[{"year":2017,"month":8,"date":20,"hours":9,"minutes":36,"utc":true},{"year":2019,"month":6,"date":26,"hours":6,"minutes":30,"utc":true}]}},
  "x2":{"field":"d2"},
  "y":{"field":"p1","type":"quantitative","scale":{"type":"log","domain":[2321,186583],"nice":false,"zero":false}},
  "y2":{"field":"p2"}
 }},
{"data":{"name":"last"},"mark":{"type":"text","color":"#e8f4f4","fontSize":6.8,"font":"Liberation Sans","align":"center","baseline":"middle"},
 "encoding":{
  "x":{"field":"dc","type":"temporal","scale":{"type":"utc","domain":[{"year":2017,"month":8,"date":20,"hours":9,"minutes":36,"utc":true},{"year":2019,"month":6,"date":26,"hours":6,"minutes":30,"utc":true}]}},
  "y":{"field":"v","type":"quantitative","scale":{"type":"log","domain":[2321,186583],"nice":false,"zero":false}},
  "text":{"field":"t"}
 }}
]
}
